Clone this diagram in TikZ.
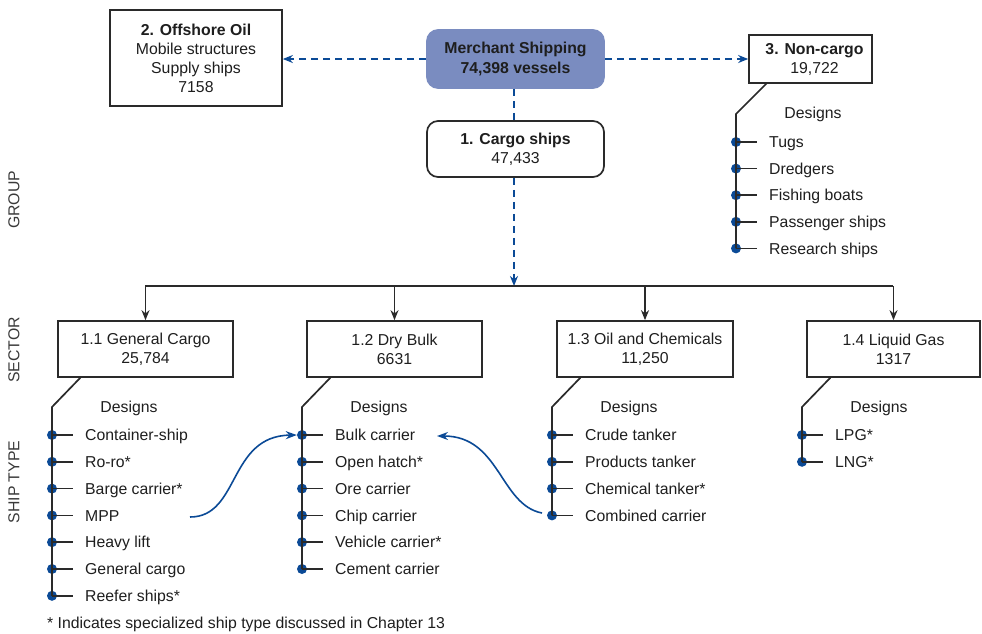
\documentclass[tikz,border=0pt]{standalone}
\usepackage{fontspec}
\setmainfont{Liberation Sans}
\usetikzlibrary{arrows.meta}
\definecolor{linec}{HTML}{2A2A2A}
\definecolor{txt}{HTML}{1E1E1E}
\definecolor{dotblue}{HTML}{0B4A96}
\definecolor{mfill}{HTML}{7A8CC0}
\definecolor{side}{HTML}{3A3A3A}
\newcommand{\fs}{\fontsize{15.8pt}{19pt}\selectfont}
\tikzset{
  box/.style={draw=linec, line width=1.7pt, align=center, inner sep=0pt, font=\fs, text=txt},
  item/.style={anchor=west, inner sep=0pt, font=\fs, text=txt, text height=11.5pt, text depth=0pt},
  lbl/.style={inner sep=0pt, font=\fs, text=txt, text height=11.5pt, text depth=0pt},
  dot/.style={circle, fill=dotblue, inner sep=0pt, minimum size=10pt},
  tree/.style={draw=linec, line width=1.7pt},
  dashblue/.style={draw=dotblue, line width=1.8pt, dash pattern=on 7pt off 5pt},
  bluetip/.style={-{Stealth[length=10pt,width=8pt]}},
  blackarr/.style={draw=linec, line width=1.6pt, -{Stealth[length=10pt,width=8pt]}},
  curvearr/.style={draw=dotblue, line width=1.6pt, -{Stealth[length=11pt,width=8pt]}},
}
\begin{document}
\begin{tikzpicture}[x=1pt,y=-1pt]
\useasboundingbox (0,0) rectangle (982,633);

% group level
\node[box, fill=mfill, draw=mfill, rounded corners=11pt, minimum width=177pt, minimum height=58pt] (m) at (515.5,59)
  {\textbf{Merchant Shipping}\\[1pt]\textbf{74,398 vessels}};
\node[box, minimum width=172pt, minimum height=96pt] (off) at (196,58)
  {\textbf{2. Offshore Oil}\\Mobile structures\\Supply ships\\7158};
\node[box, minimum width=123pt, minimum height=48pt] (nc) at (810.5,59)
  {\hspace*{8pt}\textbf{3. Non-cargo}\\\hspace*{8pt}19,722};
\node[box, rounded corners=11pt, minimum width=177pt, minimum height=56pt] (cg) at (515.5,149)
  {\textbf{1. Cargo ships}\\47,433};

\draw[dashblue, bluetip] (m.west) -- (m.west -| off.east);
\draw[dashblue, bluetip] (m.east) -- (m.east -| nc.west);
\coordinate (mb) at (514,88);
\coordinate (ct) at (514,121);
\coordinate (cb) at (514,177);
\draw[dashblue] (m.south -| mb) -- (cg.north -| ct);

% sector level
\node[box, minimum width=175pt, minimum height=56pt] (s1) at (145.5,349) {1.1 General Cargo\\25,784};
\node[box, minimum width=175pt, minimum height=56pt] (s2) at (394.5,349) {1.2 Dry Bulk\\6631};
\node[box, minimum width=176pt, minimum height=56pt] (s3) at (645,349) {1.3 Oil and Chemicals\\11,250};
\node[box, minimum width=173pt, minimum height=56pt] (s4) at (893.5,349) {1.4 Liquid Gas\\1317};

\coordinate (busL) at (145,286);
\coordinate (busR) at (893,286);
\coordinate (busM) at (514,286);
\draw[dashblue, bluetip] (cg.south -| cb) -- (busM);
\draw[draw=linec, line width=1.8pt] (busL) -- (busR);
\foreach \s in {s1,s2,s3,s4} {
  \draw[blackarr] (\s.north |- busL) -- (\s.north);
}

% non-cargo tree
\coordinate (nta) at (767,83);
\coordinate (ntb) at (736,114);
\node[lbl] (nd) at (813,113) {Designs};
\foreach \t [count=\i] in {Tugs,Dredgers,Fishing boats,Passenger ships,Research ships} {
  \node[dot] (nd\i) at (736,{142+26.6*(\i-1)}) {};
  \draw[tree] (nd\i.center) -- ++(21,0);
  \node[item] (ni\i) at (769,{142+26.6*(\i-1)}) {\t};
}
\draw[tree] (nta) -- (ntb) -- (nd5.center);

% sector trees
\newcommand{\sectortree}[4]{%
  \coordinate (#1a) at ({#2+29},377);
  \coordinate (#1b) at (#2,407);
  \node[lbl] (#1des) at ({#2+77},407) {Designs};
  \foreach \t [count=\i] in {#4} {
    \node[dot] (#1d\i) at (#2,{435+26.8*(\i-1)}) {};
    \draw[tree] (#1d\i.center) -- ++(21,0);
    \node[item] (#1i\i) at ({#2+33},{435+26.8*(\i-1)}) {\t};
  }
  \draw[tree] (#1a) -- (#1b) -- (#1d#3.center);
}
\sectortree{ta}{52}{7}{Container-ship,Ro-ro*,Barge carrier*,MPP,Heavy lift,General cargo,Reefer ships*}
\sectortree{tb}{302}{6}{Bulk carrier,Open hatch*,Ore carrier,Chip carrier,Vehicle carrier*,Cement carrier}
\sectortree{tc}{552}{4}{Crude tanker,Products tanker,Chemical tanker*,Combined carrier}
\sectortree{td}{802}{2}{LPG*,LNG*}

% curved arrows
\coordinate (c1s) at (190,517);
\coordinate (c2s) at (542,513);
\coordinate (c2e) at (437,436);
\draw[curvearr] (c1s) .. controls (240,517) and (228,436) .. (tbd1.west);
\draw[curvearr] (c2s) .. controls (500,505) and (500,436) .. (c2e);

% side labels
\node[rotate=90, font=\fs, text=side, inner sep=0pt] (lg) at (14,200) {GROUP};
\node[rotate=90, font=\fs, text=side, inner sep=0pt] (ls) at (14,350) {SECTOR};
\node[rotate=90, font=\fs, text=side, inner sep=0pt] (lt) at (14,482) {SHIP TYPE};

% footnote
\node[item] (fn) at (47,623) {* Indicates specialized ship type discussed in Chapter 13};
\end{tikzpicture}
\end{document}
